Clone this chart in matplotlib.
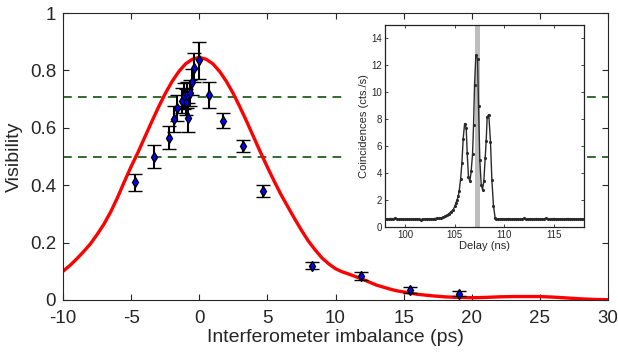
import matplotlib
matplotlib.use("Agg")
import matplotlib.pyplot as plt
from matplotlib.patches import Rectangle

plt.rcParams['font.family'] = ['Liberation Sans', 'DejaVu Sans']
plt.rcParams['axes.unicode_minus'] = False

# ---- main data: visibility vs imbalance ----
imbalance = [-4.7, -3.3, -2.2, -1.85, -1.6, -1.3, -1.15, -1.0, -0.85, -0.9,
             -0.7, -0.55, -0.4, -0.05, 0.7, 1.75, 3.2, 4.65, 8.3, 11.9, 15.5, 19.1]
visibility = [0.41, 0.50, 0.565, 0.63, 0.67, 0.695, 0.71, 0.69, 0.635, 0.715,
              0.72, 0.76, 0.81, 0.835, 0.715, 0.625, 0.537, 0.38, 0.12, 0.083, 0.035, 0.022]
vis_err = [0.03, 0.04, 0.04, 0.045, 0.045, 0.045, 0.045, 0.045, 0.05, 0.045,
           0.045, 0.045, 0.05, 0.065, 0.046, 0.025, 0.02, 0.02, 0.013, 0.013, 0.01, 0.008]

# ---- fit curve ----
fit_x = [-10, -9.5, -9, -8.5, -8, -7.5, -7, -6.5, -6, -5.5, -5, -4.5, -4, -3.5, -3, -2.5,
         -2, -1.5, -1, -0.5, 0, 0.5, 1, 1.5, 2, 2.5, 3, 3.5, 4, 4.5, 5, 5.5, 6, 6.5, 7,
         7.5, 8, 8.5, 9, 9.5, 10, 10.5, 11, 11.5, 12, 12.5, 13, 13.5, 14, 14.5, 15,
         16, 17, 18, 19, 20, 21, 22, 23, 24, 25, 26, 27, 28, 29, 30]
fit_y = [0.100, 0.120, 0.143, 0.168, 0.195, 0.228, 0.264, 0.307, 0.357, 0.412, 0.465,
         0.514, 0.567, 0.620, 0.671, 0.719, 0.761, 0.796, 0.823, 0.839, 0.845, 0.839,
         0.823, 0.796, 0.761, 0.719, 0.671, 0.620, 0.567, 0.514, 0.463, 0.414, 0.367,
         0.325, 0.283, 0.243, 0.206, 0.175, 0.147, 0.126, 0.109, 0.098, 0.090, 0.081,
         0.072, 0.062, 0.052, 0.045, 0.038, 0.032, 0.028,
         0.020, 0.015, 0.011, 0.009, 0.008, 0.009, 0.011, 0.012, 0.012, 0.012, 0.010,
         0.007, 0.004, 0.002, 0.001]

ref_levels = [0.707, 0.5]

# ---- inset data: coincidences vs delay ----
delay_left = [98.0, 98.2, 98.4, 98.6, 98.8, 99.0, 99.2, 99.4, 99.6, 99.8,
              100.0, 100.2, 100.4, 100.6, 100.8, 101.0, 101.2, 101.4, 101.6, 101.8,
              102.0, 102.2, 102.4, 102.6, 102.8, 103.0, 103.2, 103.4, 103.6, 103.8,
              104.0, 104.2, 104.4, 104.6]
coinc_left = [0.58, 0.62, 0.60, 0.63, 0.61, 0.64, 0.60, 0.59, 0.62, 0.58,
              0.57, 0.60, 0.61, 0.56, 0.59, 0.58, 0.62, 0.57, 0.55, 0.60,
              0.58, 0.61, 0.59, 0.62, 0.60, 0.63, 0.65, 0.66, 0.68, 0.72,
              0.78, 0.86, 0.97, 1.12]
delay_peak = [104.86, 105.02, 105.14, 105.26, 105.36, 105.46, 105.6, 105.73, 105.86, 106.0,
              106.16, 106.26, 106.39, 106.53, 106.66, 106.8, 106.9, 107.0, 107.13, 107.3,
              107.4, 107.53, 107.67, 107.8, 107.93, 108.07, 108.17, 108.27, 108.43, 108.6,
              108.74, 108.9, 109.07]
coinc_peak = [1.29, 1.54, 1.8, 2.03, 2.3, 2.7, 3.57, 4.76, 6.57, 7.68,
              7.38, 5.5, 3.72, 3.39, 4.14, 5.45, 7.58, 10.55, 12.76, 12.5,
              8.97, 4.96, 3.15, 2.78, 3.39, 5.13, 6.39, 8.18, 8.35, 6.34,
              3.52, 1.59, 0.67]
delay_right = [109.2, 109.4, 109.6, 109.8, 110.0, 110.2, 110.4, 110.6, 110.8, 111.0,
               111.2, 111.4, 111.6, 111.8, 112.0, 112.2, 112.4, 112.6, 112.8, 113.0,
               113.2, 113.4, 113.6, 113.8, 114.0, 114.2, 114.4, 114.6, 114.8, 115.0,
               115.2, 115.4, 115.6, 115.8, 116.0, 116.2, 116.4, 116.6, 116.8, 117.0,
               117.2, 117.4, 117.6, 117.8, 118.0]
coinc_right = [0.60, 0.58, 0.62, 0.60, 0.61, 0.59, 0.63, 0.60, 0.57, 0.61,
               0.62, 0.60, 0.58, 0.61, 0.64, 0.60, 0.59, 0.62, 0.60, 0.58,
               0.63, 0.61, 0.60, 0.57, 0.62, 0.64, 0.60, 0.59, 0.61, 0.63,
               0.60, 0.58, 0.62, 0.60, 0.57, 0.61, 0.63, 0.60, 0.62, 0.58,
               0.60, 0.61, 0.57, 0.60, 0.59]
gate = (107.02, 107.55)

delay = delay_left + delay_peak + delay_right
coinc = coinc_left + coinc_peak + coinc_right

TXT = '#262626'

fig = plt.figure(figsize=(6.18, 3.56), dpi=100)
ax = fig.add_axes([63/618, 1-300/356, (608-63)/618, (300-13)/356])

for lv in ref_levels:
    ax.axhline(lv, color='#2f6b2f', lw=1.4, ls=(0, (4.5, 3.2)), zorder=1)
ax.plot(fit_x, fit_y, color='#ff0000', lw=2.4, zorder=2,
        solid_joinstyle='round', solid_capstyle='round')
ax.errorbar(imbalance, visibility, yerr=vis_err, fmt='d', color='black',
            mfc='#0000ff', mec='black', mew=1.0, ms=5.5, ecolor='black',
            elinewidth=1.5, capsize=5, capthick=1.5, zorder=3)

ax.set_xlim(-10, 30)
ax.set_ylim(0, 1)
ax.set_xticks([-10, -5, 0, 5, 10, 15, 20, 25, 30])
ax.set_yticks([0, 0.2, 0.4, 0.6, 0.8, 1])
ax.set_yticklabels(['0', '0.2', '0.4', '0.6', '0.8', '1'])
ax.tick_params(direction='in', length=4, width=0.8, labelsize=13.5, colors=TXT,
               top=True, right=True)
ax.tick_params(axis='x', pad=7)
ax.tick_params(axis='y', pad=5)
for s in ax.spines.values():
    s.set_color(TXT)
    s.set_linewidth(0.8)
ax.set_xlabel('Interferometer imbalance (ps)', fontsize=14, color=TXT, labelpad=2)
ax.set_ylabel('Visibility', fontsize=14, color=TXT, labelpad=5)

# white background behind inset
fig.patches.append(Rectangle((343/618, 1-256/356), (586-343)/618, (256-21)/356,
                             transform=fig.transFigure, facecolor='white',
                             edgecolor='none', zorder=1))

ins = fig.add_axes([385/618, 1-227/356, (584-385)/618, (227-25)/356])
ins.set_zorder(2)
ins.axvspan(gate[0], gate[1], color='#bdbdbd', lw=0, zorder=1)
ins.plot(delay, coinc, color='#2a2a2a', lw=1.0, marker='.', ms=2.5, zorder=2)
ins.set_xlim(98, 118)
ins.set_ylim(0, 15)
ins.set_xticks([100, 105, 110, 115])
ins.set_yticks([0, 2, 4, 6, 8, 10, 12, 14])
ins.tick_params(direction='in', length=2.5, width=0.6, labelsize=7, colors=TXT,
                top=True, right=True, pad=2)
for s in ins.spines.values():
    s.set_color('#222222')
    s.set_linewidth(0.9)
ins.set_xlabel('Delay (ns)', fontsize=8, color=TXT, labelpad=1)
ins.set_ylabel('Coincidences (cts./s)', fontsize=8, color=TXT, labelpad=2)

fig.savefig('out.png', dpi=100)
